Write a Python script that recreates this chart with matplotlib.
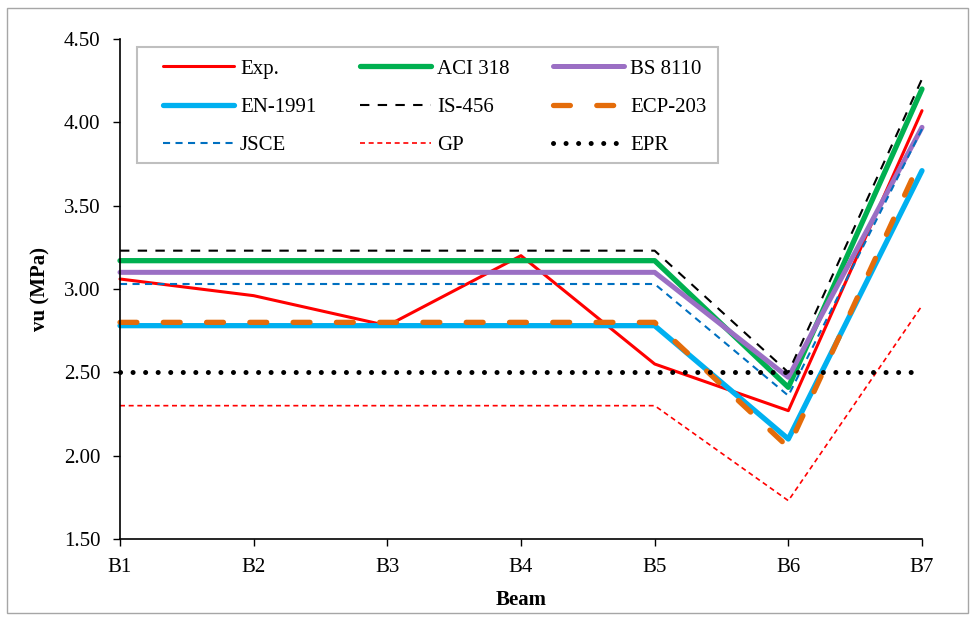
import matplotlib.pyplot as plt
from matplotlib.patches import Rectangle
from matplotlib.ticker import FormatStrFormatter

plt.rcParams['font.family'] = ['Liberation Serif', 'DejaVu Serif']

beams = ['B1', 'B2', 'B3', 'B4', 'B5', 'B6', 'B7']

exp_vals = [3.06, 2.96, 2.78, 3.20, 2.55, 2.27, 4.07]
aci_318 = [3.17, 3.17, 3.17, 3.17, 3.17, 2.41, 4.20]
bs_8110 = [3.10, 3.10, 3.10, 3.10, 3.10, 2.47, 3.97]
en_1991 = [2.78, 2.78, 2.78, 2.78, 2.78, 2.10, 3.71]
is_456 = [3.23, 3.23, 3.23, 3.23, 3.23, 2.50, 4.26]
ecp_203 = [2.80, 2.80, 2.80, 2.80, 2.80, 2.05, 3.79]
jsce = [3.03, 3.03, 3.03, 3.03, 3.03, 2.36, 3.96]
gp = [2.30, 2.30, 2.30, 2.30, 2.30, 1.73, 2.90]
epr = [2.50, 2.50, 2.50, 2.50, 2.50, 2.50, 2.50]

W, H = 976, 618
fig = plt.figure(figsize=(W / 100, H / 100), dpi=100)
ax = fig.add_axes([120 / W, 1 - 539 / H, (922 - 120) / W, (539 - 39) / H])

x = range(len(beams))

ax.plot(x, exp_vals, color='#FF0000', lw=2.2, label='Exp.', solid_capstyle='round')
ax.plot(x, aci_318, color='#00B050', lw=3.8, label='ACI 318', solid_capstyle='round')
ax.plot(x, bs_8110, color='#9B6FC4', lw=3.6, label='BS 8110', solid_capstyle='round')
ax.plot(x, en_1991, color='#00B0F0', lw=3.8, label='EN-1991', solid_capstyle='round')
ax.plot(x, is_456, color='black', lw=1.5, dashes=(4.5, 4.0), label='IS-456')
ax.plot(x, ecp_203, color='#E46C0A', lw=3.8, dashes=(3.2, 5.0),
        dash_capstyle='round', label='ECP-203')
ax.plot(x, jsce, color='#0070C0', lw=1.5, dashes=(3.4, 2.6), label='JSCE')
ax.plot(x, gp, color='#FF0000', lw=1.2, dashes=(3.0, 2.2), label='GP')
ax.plot(x, epr, color='black', lw=3.6, dashes=(0.01, 2.5),
        dash_capstyle='round', label='EPR')

for ln in ax.get_lines():
    ln.set_clip_on(False)

ax.set_xlim(0, 6)
ax.set_ylim(1.5, 4.5)
ax.set_xticks(list(x))
ax.set_xticklabels(beams)
ax.set_yticks([1.5, 2.0, 2.5, 3.0, 3.5, 4.0, 4.5])
ax.yaxis.set_major_formatter(FormatStrFormatter('%.2f'))
ax.tick_params(axis='both', labelsize=15, direction='out', length=5,
               width=1, colors='black')
ax.tick_params(axis='y', pad=9)
ax.tick_params(axis='x', pad=9)

for side in ['top', 'right']:
    ax.spines[side].set_visible(False)
for side in ['left', 'bottom']:
    ax.spines[side].set_linewidth(1.2)

ax.set_ylabel('vu (MPa)', fontsize=15, fontweight='bold', labelpad=10)
ax.set_xlabel('Beam', fontsize=15, fontweight='bold', labelpad=9)

# legend filled row by row, frame drawn separately
handles, labels = ax.get_legend_handles_labels()
order = [0, 3, 6, 1, 4, 7, 2, 5, 8]
leg = ax.legend([handles[i] for i in order], [labels[i] for i in order],
                ncol=3, loc='upper left', bbox_to_anchor=(163 / W, 1 - 59 / H),
                bbox_transform=fig.transFigure, borderaxespad=0, borderpad=0,
                fontsize=15, frameon=False, handlelength=3.4,
                handletextpad=0.3, columnspacing=2.1, labelspacing=0.9)
fig.patches.append(Rectangle((137 / W, 1 - 163 / H), (718 - 137) / W, (163 - 47) / H,
                             transform=fig.transFigure, fill=False,
                             edgecolor='#BFBFBF', lw=1.5, zorder=5))

# outer chart border
fig.patches.append(Rectangle((7 / W, 1 - 613 / H), (968 - 7) / W, (613 - 8) / H,
                             transform=fig.transFigure, fill=False,
                             edgecolor='#A6A6A6', lw=1.0))

fig.savefig('out.png', dpi=100)
